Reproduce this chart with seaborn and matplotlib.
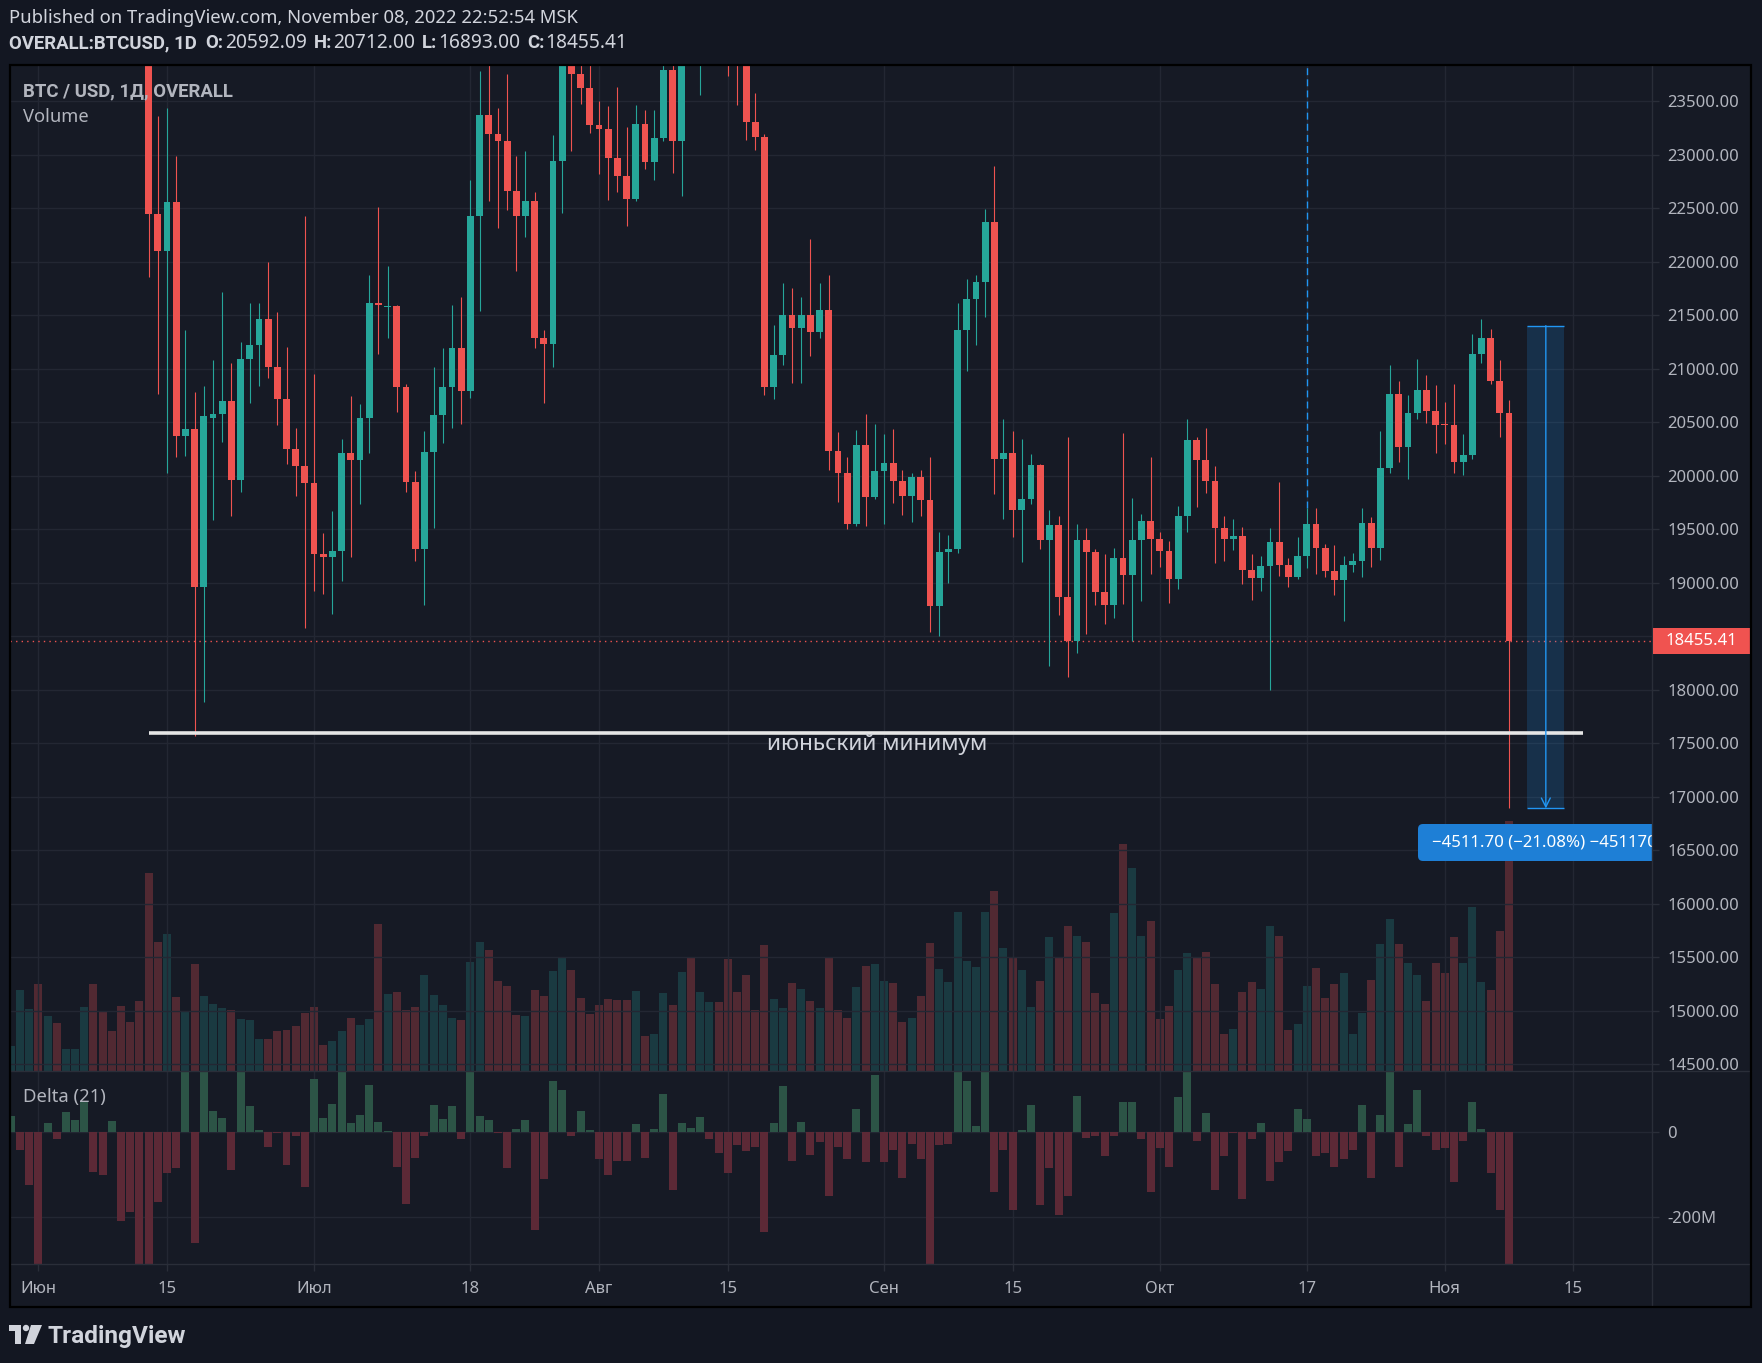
import numpy as np
import pandas as pd
import seaborn as sns
import matplotlib
matplotlib.use('Agg')
import matplotlib.pyplot as plt
import matplotlib.dates as mdates
from matplotlib.patches import Rectangle, FancyBboxPatch, Polygon, Circle
from matplotlib.lines import Line2D
from matplotlib.transforms import IdentityTransform

# daily BTC/USD bars, 2022-05-29 .. 2022-11-08
first_day = '2022-05-29'
last_day = '2022-11-08'

opens = [29000, 29440, 31720,
         31790, 29800, 30450, 29700, 29860, 29910, 31370, 31120, 30200, 30100, 29080, 28420, 26580, 22444, 22103,
         22565, 20370, 20441, 18965, 20540, 20575, 20703, 19959, 21093, 21222, 21463, 21023, 20723, 20250, 20092,
         19934, 19273, 19240, 19298, 20216, 20154, 20545, 21613, 21580, 21592, 20836, 19942, 19319, 20225, 20570,
         20832, 21193, 20790, 22432, 23371, 23196, 23130, 22668, 22432, 22573, 21293, 21235, 22943, 23850, 23757, 23624,
         23284, 23246, 22968, 22801, 22590, 23288, 22939, 23159, 23790, 23134, 23950, 23930, 24400, 24420, 24300,
         24100, 23850, 23309, 23171, 20827, 21131, 21501, 21380, 21509, 21347, 21555, 20229, 20025, 19547, 20287, 19801,
         20042, 20125, 19950, 19813, 19992, 19780, 18787, 19294, 19319, 21363, 21650, 21816, 22377, 20162, 20216,
         19684, 19788, 20104, 19398, 19539, 18870, 18458, 19406, 19290, 18920, 18795, 19231, 19078, 19406, 19576,
         19410, 19298, 19040, 19622, 20337, 20146, 19950, 19518, 19410, 19435, 19123, 19049, 19157, 19381, 19169,
         19057, 19256, 19547, 19323, 19111, 19024, 19165, 19202, 19564, 19323, 20079, 20765, 20275, 20590, 20802, 20607,
         20487, 20474, 20133, 20200, 21139, 21289, 20886, 20592.09]
highs = [29450, 31900, 32200,
         31950, 30600, 30650, 29950, 30150, 31700, 31550, 31300, 30650, 30300, 29400, 28550, 26900, 23362, 23437,
         22988, 21363, 20786, 20840, 21081, 21717, 21056, 21251, 21621, 21613, 22004, 21530, 21206, 20449, 22427,
         20952, 19464, 19676, 20345, 20748, 20674, 21883, 22515, 21966, 21596, 20861, 20050, 20420, 21019, 21193,
         21596, 21671, 22768, 23786, 24280, 23437, 23753, 22993, 23038, 22656, 21363, 23188, 24200, 24400, 24650, 24200,
         23504, 23458, 23632, 23263, 23467, 23421, 23421, 24240, 24100, 24200, 24900, 24450, 24900, 25050, 25200,
         24250, 24450, 23579, 23196, 21409, 21800, 21754, 21675, 22211, 21804, 21874, 20408, 20179, 20433, 20578, 20487,
         20395, 20441, 20058, 20029, 20058, 20179, 19481, 19452, 21613, 21837, 21874, 22498, 22897, 20532, 20420,
         20345, 20208, 20113, 19684, 19622, 20366, 19547, 19510, 19315, 19269, 19331, 20403, 19796, 19647, 20179,
         19477, 19394, 19718, 20532, 20366, 20453, 20096, 19622, 19601, 19527, 19269, 19256, 19510, 19946, 19231,
         19427, 19705, 19705, 19360, 19352, 19256, 19277, 19705, 19614, 20420, 21035, 20886, 20757, 21093, 20944, 20848,
         20690, 20861, 20395, 21326, 21470, 21372, 21081, 20712.00]
lows = [28900, 29300, 31200,
        29300, 29600, 29250, 29500, 29500, 29880, 29200, 29900, 29950, 28900, 28100, 26500, 21858, 20765, 20025,
        20175, 20191, 17573, 17885, 19589, 20316, 19626, 19851, 20686, 20844, 20919, 20474, 20108, 19813, 18583,
        18928, 18899, 18712, 19020, 19244, 19738, 20212, 21143, 21293, 20599, 19851, 19207, 18795, 19518, 20304,
        20453, 20487, 20728, 21546, 22573, 22315, 22486, 21912, 22236, 21193, 20682, 21023, 22461, 23034, 23479, 23209,
        22822, 22577, 22656, 22336, 22569, 22872, 22764, 23134, 22835, 22614, 23900, 23562, 24300, 24000, 23737,
        23463, 23142, 23047, 20757, 20723, 21039, 20873, 20873, 21122, 21293, 20058, 19755, 19502, 19531, 19531, 19788,
        19552, 19747, 19635, 19568, 19626, 18542, 18508, 18999, 19281, 20981, 21222, 21488, 19834, 19601, 19431,
        19198, 19738, 19319, 18222, 18704, 18122, 18342, 18525, 18795, 18612, 18675, 18807, 18458, 18832, 19086,
        19152, 18816, 18945, 19477, 19709, 19838, 19186, 19207, 19310, 18990, 18845, 18928, 17997, 19065, 18965,
        19040, 19140, 19086, 19053, 18886, 18645, 19098, 19053, 19148, 19211, 20029, 20133, 19975, 20532, 20495, 20216,
        20300, 20029, 20013, 20162, 21060, 20861, 20366, 16893.00]
closes = [29440, 31720, 31790,
          29800, 30450, 29700, 29860, 29910, 31370, 31120, 30200, 30100, 29080, 28420, 26580, 22444, 22103, 22565,
          20370, 20441, 18965, 20561, 20575, 20703, 19959, 21093, 21222, 21463, 21023, 20723, 20250, 20092, 19934,
          19273, 19240, 19298, 20216, 20154, 20545, 21613, 21600, 21592, 20836, 19942, 19319, 20225, 20570, 20832,
          21193, 20790, 22432, 23371, 23196, 23130, 22668, 22432, 22573, 21293, 21235, 22943, 23850, 23757, 23624, 23284,
          23246, 22968, 22801, 22590, 23288, 22939, 23159, 23790, 23134, 23950, 23930, 24400, 24420, 24300, 24100,
          23850, 23309, 23171, 20827, 21131, 21501, 21380, 21509, 21347, 21555, 20229, 20025, 19547, 20287, 19801, 20042,
          20125, 19950, 19813, 19992, 19780, 18787, 19294, 19319, 21363, 21650, 21816, 22377, 20162, 20216, 19684,
          19788, 20104, 19398, 19539, 18870, 18458, 19406, 19290, 18920, 18795, 19231, 19078, 19406, 19576, 19410,
          19298, 19040, 19622, 20337, 20146, 19950, 19518, 19410, 19435, 19123, 19049, 19157, 19381, 19169, 19057,
          19256, 19547, 19323, 19111, 19024, 19165, 19202, 19564, 19323, 20079, 20765, 20275, 20590, 20802, 20607, 20478,
          20474, 20133, 20200, 21139, 21289, 20886, 20592, 18455.41]
volume = [74, 242, 185,
          262, 164, 143, 65, 65, 191, 262, 176, 119, 194, 146, 209, 593, 386, 410,
          221, 179, 320, 224, 200, 188, 182, 155, 152, 95, 95, 119, 122, 134, 173,
          191, 77, 89, 119, 158, 137, 155, 440, 230, 236, 182, 191, 287, 227, 197,
          158, 152, 326, 386, 362, 269, 254, 167, 164, 242, 224, 299, 341, 302, 218, 170,
          197, 215, 212, 212, 239, 104, 110, 233, 197, 296, 338, 236, 206, 206, 335,
          236, 287, 182, 377, 215, 188, 263, 245, 209, 188, 338, 182, 158, 251, 314, 320,
          269, 263, 146, 158, 224, 383, 305, 266, 476, 329, 311, 476, 539, 368, 338,
          302, 191, 269, 401, 341, 434, 404, 386, 233, 200, 473, 680, 608, 404, 449,
          155, 194, 302, 353, 338, 356, 260, 110, 125, 236, 266, 245, 434, 404, 122,
          140, 254, 308, 218, 260, 293, 110, 173, 272, 380, 455, 380, 323, 287, 209, 323,
          293, 401, 323, 491, 266, 242, 419, 750]
# delta (21), millions
delta = [38, -41, -125,
         -353, 22, -17, 48, 29, 71, -93, -100, 27, -208, -187, -337, -368, -165, -95,
         -83, 157, -260, 172, 50, 34, -90, 157, 62, 5, -34, -2, -78, -10, -130,
         125, 34, 67, 165, 22, 41, 111, 24, 3, -81, -170, -60, -10, 64, 31,
         62, -15, 180, 38, 29, -2, -83, 8, 29, -229, -109, 121, 100, -8, 50, 5,
         -64, -100, -67, -67, 20, -60, 8, 90, -135, 22, 10, 36, -15, -50, -95,
         -29, -45, -34, -234, 22, 109, -67, 24, -53, -24, -151, -34, -64, 55, -71, 135,
         -71, -41, -107, -27, -64, -345, -29, -27, 161, 121, 15, 169, -140, -41, -184,
         5, 64, -172, -83, -194, -151, 85, -13, -10, -57, -8, 71, 71, -15, -140,
         -38, -81, 83, 157, -20, 45, -135, -55, -3, -156, -15, 22, -114, -69, -45,
         55, 31, -57, -48, -81, -62, -41, 64, -107, 41, 165, -81, 20, 100, -8, -41,
         -38, -116, -20, 71, 8, -97, -184, -376]

tick_days = ['2022-06-01', '2022-06-15', '2022-07-01', '2022-07-18', '2022-08-01', '2022-08-15',
             '2022-09-01', '2022-09-15', '2022-10-01', '2022-10-17', '2022-11-01', '2022-11-15']
tick_labels = ['Июн', '15', 'Июл', '18', 'Авг', '15', 'Сен', '15', 'Окт', '17', 'Ноя', '15']
price_levels = [14500, 15000, 15500, 16000, 16500, 17000, 17500, 18000, 18500, 19000, 19500,
                20000, 20500, 21000, 21500, 22000, 22500, 23000, 23500]
delta_levels = [0, -200]
delta_labels = ['0', '-200M']

june_low = 17600
last_close = 18455.41
measure_top = 21404.70
measure_bottom = 16893.00

# colours
BG = '#131722'
PANE = '#161a25'
GRID = '#232733'
SEP = '#2a2e39'
UP = '#26a69a'
DOWN = '#ef5350'
VOL_UP = '#1a3a41'
VOL_DOWN = '#512932'
DELTA_UP = '#2c5446'
DELTA_DOWN = '#5c2936'
TEXT = '#d1d4dc'
MUTED = '#b2b5be'
BLUE = '#2196f3'
BOLD_FONT = ['Roboto', 'DejaVu Sans']

# layout in pixels (origin top-left)
W, H = 1762, 1363
L, R_PLOT, R_FRAME = 10, 1652, 1751
TOP, SPLIT, XAXIS, BOTTOM = 65, 1071, 1264, 1307


def fx(px):
    return px / W


def fy(py):
    return 1 - py / H


def rect(x0, y0, x1, y1):
    return [fx(x0), fy(y1), (x1 - x0) / W, (y1 - y0) / H]


sns.set_theme(style='darkgrid', rc={'axes.facecolor': PANE, 'grid.color': GRID,
                                    'axes.edgecolor': PANE, 'figure.facecolor': BG})
plt.rcParams['font.family'] = ['Noto Sans', 'DejaVu Sans']

dates = pd.date_range(first_day, last_day, freq='D')
x = mdates.date2num(dates)
base = mdates.date2num(pd.Timestamp('2022-06-01'))
o, hi, lo, c = (np.array(v, dtype=float) for v in (opens, highs, lows, closes))
up = c >= o

fig = plt.figure(figsize=(W / 100, H / 100), dpi=100, facecolor=BG)
renderer = fig.canvas.get_renderer()
fig.add_artist(Rectangle((fx(L), fy(BOTTOM)), fx(R_FRAME) - fx(L), fy(TOP) - fy(BOTTOM),
                         transform=fig.transFigure, facecolor=PANE, edgecolor='none', zorder=-5))

ax_vol = fig.add_axes(rect(L, TOP, R_PLOT, SPLIT))
ax_price = fig.add_axes(rect(L, TOP, R_PLOT, SPLIT), sharex=ax_vol)
ax_delta = fig.add_axes(rect(L, SPLIT, R_PLOT, XAXIS), sharex=ax_vol)
ax_price.set_facecolor('none')

# volume (overlay at the bottom of the price pane)
vol_df = pd.DataFrame({'x': x, 'volume': volume, 'side': np.where(up, 'up', 'down')})
sns.barplot(data=vol_df, x='x', y='volume', hue='side', palette={'up': VOL_UP, 'down': VOL_DOWN},
            native_scale=True, width=0.87, dodge=False, saturation=1, legend=False,
            errorbar=None, linewidth=0, ax=ax_vol)
ax_vol.set_ylim(0, 3013)
ax_vol.grid(False)

# delta pane
delta_df = pd.DataFrame({'x': x, 'delta': delta, 'sign': np.where(np.array(delta) >= 0, 'pos', 'neg')})
sns.barplot(data=delta_df, x='x', y='delta', hue='sign', palette={'pos': DELTA_UP, 'neg': DELTA_DOWN},
            native_scale=True, width=0.87, dodge=False, saturation=1, legend=False,
            errorbar=None, linewidth=0, ax=ax_delta)
ax_delta.set_ylim(-310, 144)

# candles
col = np.where(up, UP, DOWN)
ax_price.vlines(x, lo, hi, colors=col, lw=0.8, zorder=3)
ax_price.bar(x, np.maximum(np.abs(c - o), 12), bottom=np.minimum(o, c), width=0.74,
             color=col, linewidth=0, zorder=4)
ax_price.set_ylim(14439, 23841)

# drawings
ax_price.axhline(last_close, color=DOWN, lw=1, ls=(0, (1, 3)), zorder=2)
ax_price.vlines(mdates.date2num(pd.Timestamp('2022-10-17')), 19705, 24000, color=BLUE,
                lw=1, ls=(0, (5, 3)), zorder=2)
ax_price.hlines(june_low, base + 12, base + 168, color='#e6e6e6', lw=2.6, zorder=6)
ax_price.text(base + 91.2, june_low - 105, 'июньский минимум', color=TEXT, fontsize=16.3,
              ha='center', va='center', zorder=6)

m0, m1 = base + 162, base + 166
ax_price.add_patch(Rectangle((m0, measure_bottom), m1 - m0, measure_top - measure_bottom,
                             facecolor=BLUE, alpha=0.18, edgecolor='none', zorder=5))
ax_price.hlines([measure_top, measure_bottom], m0, m1, color=BLUE, lw=1, zorder=6)
ax_price.annotate('', xy=(base + 164, measure_bottom), xytext=(base + 164, measure_top),
                  arrowprops=dict(arrowstyle='->', color=BLUE, lw=1, shrinkA=0, shrinkB=0,
                                  mutation_scale=16), zorder=6)
label_box = FancyBboxPatch((1418, H - 861), 340, 37, boxstyle='round,pad=0,rounding_size=5',
                           transform=IdentityTransform(), facecolor='#1e7fd6', edgecolor='none', zorder=8)
ax_price.add_artist(label_box)
ax_price.text(1432, H - 842.5, '−4511.70 (−21.08%) −451170', transform=IdentityTransform(),
              color='white', fontsize=12.1, ha='left', va='center', clip_on=True, zorder=9)

# axes, ticks, grid
tick_x = mdates.date2num(pd.to_datetime(tick_days))
ax_vol.set_xlim(base - 3.08, base + 175.55)
ax_delta.set_xticks(tick_x)
ax_delta.set_xticklabels(tick_labels)

ax_price.set_yticks(price_levels)
ax_price.set_yticklabels(['' if v == 18500 else f'{v:.2f}' for v in price_levels])
ax_price.yaxis.tick_right()
ax_delta.set_yticks(delta_levels)
ax_delta.set_yticklabels(delta_labels)
ax_delta.yaxis.tick_right()

for ax in (ax_vol, ax_price, ax_delta):
    ax.set_xlabel('')
    ax.set_ylabel('')
    for s in ax.spines.values():
        s.set_visible(False)
ax_vol.tick_params(left=False, labelleft=False, bottom=False, labelbottom=False)
ax_price.tick_params(axis='x', bottom=False, labelbottom=False)
ax_price.tick_params(axis='y', right=True, left=False, labelleft=False, labelright=True,
                     length=5, width=1, color=SEP, pad=6, labelsize=12, labelcolor=MUTED)
ax_delta.tick_params(axis='y', right=True, left=False, labelleft=False, labelright=True,
                     length=5, width=1, color=SEP, pad=6, labelsize=12, labelcolor=MUTED)
ax_delta.tick_params(axis='x', bottom=True, length=5, width=1, color=SEP, pad=7,
                     labelsize=12, labelcolor=MUTED)
ax_price.grid(True, color=GRID, lw=1)
ax_price.set_axisbelow(True)
ax_delta.grid(True, color=GRID, lw=1)

# frame and separators
for xs, ys in (([R_PLOT, R_PLOT], [TOP, BOTTOM]), ([L, R_FRAME], [SPLIT, SPLIT]), ([L, R_FRAME], [XAXIS, XAXIS])):
    fig.add_artist(Line2D([fx(v) for v in xs], [fy(v) for v in ys], transform=fig.transFigure,
                          color=SEP, lw=1, zorder=3))
fig.add_artist(Rectangle((fx(L), fy(BOTTOM)), fx(R_FRAME) - fx(L), fy(TOP) - fy(BOTTOM),
                         transform=fig.transFigure, facecolor='none', edgecolor='#000000', lw=1.6, zorder=10))

# last price tag
fig.add_artist(Rectangle((fx(1653), fy(654)), fx(R_FRAME) - fx(1653), fy(628) - fy(654),
                         transform=fig.transFigure, facecolor='#f05350', edgecolor='none', zorder=5))
fig.text(fx(1666), fy(641), f'{last_close:.2f}', color='white', fontsize=12, va='center', zorder=6)

# header and pane titles
fig.text(fx(9), fy(18), 'Published on TradingView.com, November 08, 2022 22:52:54 MSK',
         color=TEXT, fontsize=13.3, va='center')
header = [('OVERALL:BTCUSD, 1D', True, 9), ('O:', True, 1), ('20592.09', False, 7),
          ('H:', True, 1), ('20712.00', False, 7), ('L:', True, 1),
          ('16893.00', False, 7), ('C:', True, 1), (f'{last_close:.2f}', False, 0)]
cursor = 9
for s, bold, gap in header:
    if bold:
        t = fig.text(fx(cursor), fy(43), s, color=TEXT, fontsize=13.4, fontweight='bold',
                     family=BOLD_FONT, va='center')
    else:
        t = fig.text(fx(cursor), fy(43), s, color=TEXT, fontsize=13.8, va='center')
    cursor += t.get_window_extent(renderer).width + gap
fig.text(fx(23), fy(91), 'BTC / USD, 1Д, OVERALL', color=MUTED, fontsize=13.4, fontweight='bold',
         family=BOLD_FONT, va='center')
fig.text(fx(23), fy(117), 'Volume', color=MUTED, fontsize=13.2, va='center')
fig.text(fx(23), fy(1097), 'Delta (21)', color=MUTED, fontsize=13.3, va='center')

# TradingView logo
logo = [Polygon([(9, H - 1325), (21, H - 1325), (21, H - 1344), (15, H - 1344), (15, H - 1331), (9, H - 1331)]),
        Circle((26, H - 1328), 3.2),
        Polygon([(31, H - 1325), (42, H - 1325), (34, H - 1344), (25, H - 1344)])]
for p in logo:
    p.set_transform(IdentityTransform())
    p.set_facecolor(TEXT)
    p.set_edgecolor('none')
    fig.add_artist(p)
fig.text(fx(48), fy(1336), 'TradingView', color=TEXT, fontsize=17.6, fontweight='bold',
         family=BOLD_FONT, va='center')

fig.savefig('out.png', dpi=100, facecolor=BG)
